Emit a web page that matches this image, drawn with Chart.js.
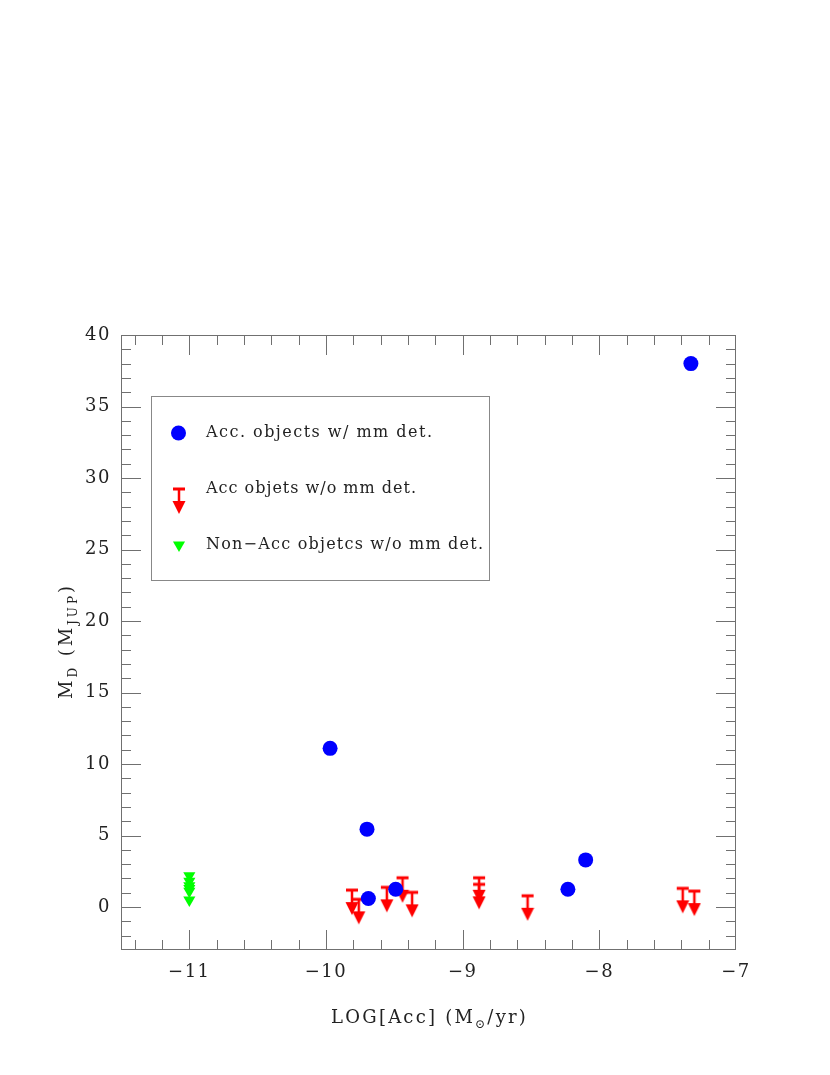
<!DOCTYPE html>
<html><head><meta charset="utf-8">
<script src="https://cdn.jsdelivr.net/npm/chart.js@4/dist/chart.umd.min.js"></script>
<style>html,body{margin:0;padding:0;background:#fff}#wrap{width:830px;height:1075px;position:relative}</style>
</head><body><div id="wrap"><canvas id="c" width="830" height="1075"></canvas></div>
<script>
// ---- data ----
const accX = [-7.33, -9.97, -9.70, -9.69, -9.49, -8.23, -8.10];
const accY = [38.0, 11.1, 5.45, 0.6, 1.25, 1.25, 3.3];
const limX = [-9.81, -9.76, -9.555, -9.44, -9.37, -8.88, -8.88, -8.525, -7.39, -7.305];
const limY = [1.19, 0.54, 1.38, 2.05, 1.03, 2.05, 1.59, 0.79, 1.31, 1.12];
const nonX = [-11, -11, -11, -11, -11, -11];
const nonY = [2.2, 1.8, 1.5, 1.3, 1.1, 0.5];
const xTicks = [-11, -10, -9, -8, -7];
const yTicks = [0, 5, 10, 15, 20, 25, 30, 35, 40];
const seriesLabels = ['Acc. objects w/ mm det.', 'Acc objets w/o mm det.', 'Non\u2212Acc objetcs w/o mm det.'];

const FONT = 'DejaVu Serif';
const fmt = v => (v < 0 ? '\u2212' + Math.abs(v) : String(v));

function makeArrow() {
  const c = document.createElement('canvas');
  c.width = 14; c.height = 56;
  const g = c.getContext('2d');
  g.fillStyle = '#ff0000';
  g.fillRect(1, 26.5, 12, 3);
  g.fillRect(5.75, 28, 2.5, 13);
  g.beginPath();
  g.moveTo(0.5, 40); g.lineTo(13.5, 40); g.lineTo(7, 53); g.closePath();
  g.fill();
  return c;
}
const arrow = makeArrow();

// draw text with sub-scripts, spread to a target width
function richText(ctx, segs, cx, cy, size, target) {
  const sub = Math.round(size * 0.68);
  ctx.letterSpacing = '0px';
  let w = 0, n = 0;
  segs.forEach(s => { ctx.font = (s.sub ? sub : size) + 'px "' + FONT + '"'; s.w = ctx.measureText(s.t).width; w += s.w; n += s.t.length; });
  const sp = target ? Math.max(0, (target - w) / n) : 0;
  let x = cx - (w + sp * (n - 1)) / 2;
  ctx.textBaseline = 'alphabetic';
  ctx.textAlign = 'left';
  ctx.letterSpacing = sp + 'px';
  segs.forEach(s => {
    ctx.font = (s.sub ? sub : size) + 'px "' + FONT + '"';
    ctx.fillText(s.t, x, cy + (s.sub ? size * 0.28 : 0));
    x += s.w + sp * s.t.length;
  });
  ctx.letterSpacing = '0px';
}

const decor = {
  id: 'decor',
  beforeDraw(chart) {
    chart.ctx.letterSpacing = '1.5px';
  },
  beforeDatasetsDraw(chart) {
    const { ctx, chartArea: a, scales: { x, y } } = chart;
    ctx.save();
    ctx.strokeStyle = '#707070';
    ctx.lineWidth = 1;
    ctx.strokeRect(a.left + 0.5, a.top + 0.5, a.right - a.left - 1, a.bottom - a.top - 1);
    ctx.beginPath();
    for (let k = -57; k <= -36; k++) {
      const v = k * 0.2;
      if (v <= -11.5 || v >= -7) continue;
      const px = Math.round(x.getPixelForValue(v)) + 0.5;
      const len = (k % 5 === 0) ? 20 : 10;
      ctx.moveTo(px, a.bottom); ctx.lineTo(px, a.bottom - len);
      ctx.moveTo(px, a.top); ctx.lineTo(px, a.top + len);
    }
    for (let v = -2; v <= 39; v++) {
      const py = Math.round(y.getPixelForValue(v)) + 0.5;
      const len = (v % 5 === 0) ? 20 : 10;
      ctx.moveTo(a.left, py); ctx.lineTo(a.left + len, py);
      ctx.moveTo(a.right, py); ctx.lineTo(a.right - len, py);
    }
    ctx.stroke();
    ctx.restore();
  },
  afterDraw(chart) {
    const { ctx, chartArea: a } = chart;
    ctx.save();
    ctx.letterSpacing = '0px';
    ctx.fillStyle = '#222';
    // axis titles
    richText(ctx, [{ t: 'LOG[Acc] (M' }, { t: '\u2299', sub: true }, { t: '/yr)' }], (a.left + a.right) / 2, 1023, 18, 197);
    ctx.save();
    ctx.translate(72, (a.top + a.bottom) / 2);
    ctx.rotate(-Math.PI / 2);
    richText(ctx, [{ t: 'M' }, { t: 'D', sub: true }, { t: ' (M' }, { t: 'JUP', sub: true }, { t: ')' }], 0, 0, 18, 116);
    ctx.restore();
    // legend
    ctx.strokeStyle = '#888';
    ctx.lineWidth = 1;
    ctx.strokeRect(151.5, 396.5, 338, 184);
    const rows = [433, 489, 545];
    ctx.fillStyle = '#0000ff';
    ctx.beginPath(); ctx.arc(178.5, rows[0], 7.5, 0, Math.PI * 2); ctx.fill();
    ctx.drawImage(arrow, 179 - 7, rows[1] - 28);
    ctx.fillStyle = '#00ff00';
    const r = 7;
    ctx.beginPath();
    ctx.moveTo(179, rows[2] + r);
    ctx.lineTo(179 - r * Math.sin(Math.PI / 3), rows[2] - r / 2);
    ctx.lineTo(179 + r * Math.sin(Math.PI / 3), rows[2] - r / 2);
    ctx.closePath(); ctx.fill();
    ctx.fillStyle = '#222';
    ctx.font = '16px "' + FONT + '"';
    ctx.textBaseline = 'middle';
    ctx.textAlign = 'left';
    const targets = [226, 210, 277];
    seriesLabels.forEach((t, i) => {
      ctx.letterSpacing = '0px';
      const w = ctx.measureText(t).width;
      ctx.letterSpacing = Math.max(0, (targets[i] - w) / (t.length - 1)) + 'px';
      ctx.fillText(t, 206, rows[i]);
    });
    ctx.letterSpacing = '0px';
    ctx.restore();
  }
};

new Chart(document.getElementById('c'), {
  type: 'scatter',
  data: {
    datasets: [
      { label: seriesLabels[0], data: accX.map((v, i) => ({ x: v, y: accY[i] })), pointStyle: 'circle', pointRadius: 7.5, backgroundColor: '#0000ff', borderColor: '#0000ff', borderWidth: 0 },
      { label: seriesLabels[1], data: limX.map((v, i) => ({ x: v, y: limY[i] })), pointStyle: arrow, pointRadius: 7, backgroundColor: '#ff0000', borderColor: '#ff0000', borderWidth: 0 },
      { label: seriesLabels[2], data: nonX.map((v, i) => ({ x: v, y: nonY[i] })), pointStyle: 'triangle', rotation: 180, pointRadius: 7, backgroundColor: '#00ff00', borderColor: '#00ff00', borderWidth: 0 }
    ]
  },
  options: {
    responsive: false,
    animation: false,
    devicePixelRatio: 1,
    events: [],
    layout: { padding: { top: 335, right: 94, left: 0, bottom: 0 } },
    plugins: { legend: { display: false }, tooltip: { enabled: false } },
    scales: {
      x: {
        type: 'linear', min: -11.5, max: -7,
        afterBuildTicks(s) { s.ticks = xTicks.map(v => ({ value: v })); },
        afterFit(s) { s.height = 125; },
        grid: { display: false, drawTicks: false },
        border: { display: false },
        ticks: { padding: 12, maxRotation: 0, autoSkip: false, color: '#222', font: { family: FONT, size: 18 }, callback: v => fmt(v) }
      },
      y: {
        type: 'linear', min: -3, max: 40,
        afterBuildTicks(s) { s.ticks = yTicks.map(v => ({ value: v })); },
        afterFit(s) { s.width = 121; },
        grid: { display: false, drawTicks: false },
        border: { display: false },
        ticks: { padding: 10, autoSkip: false, color: '#222', font: { family: FONT, size: 18 }, callback: v => fmt(v) }
      }
    }
  },
  plugins: [decor]
});
</script></body></html>
